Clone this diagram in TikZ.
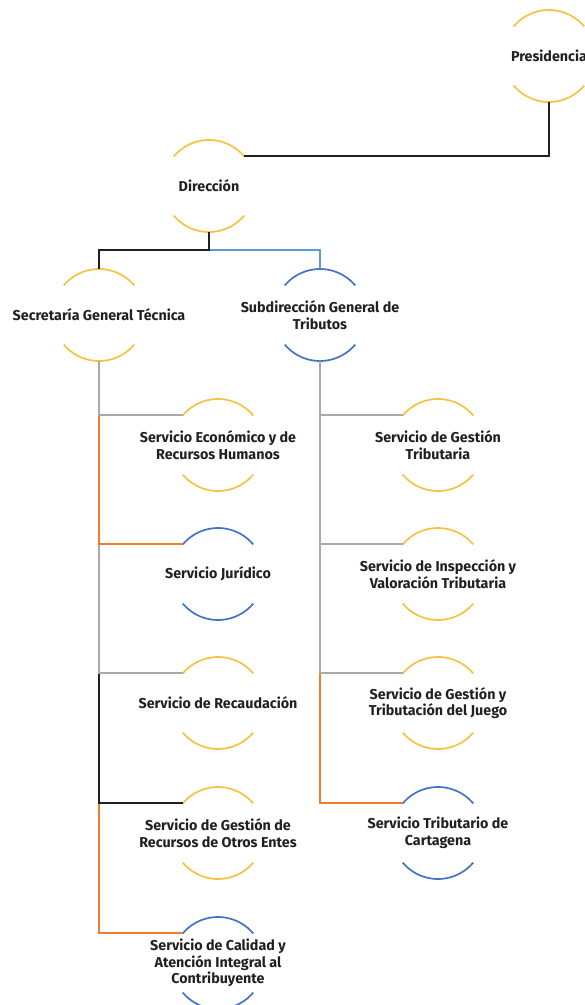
\documentclass[tikz,border=0pt]{standalone}
\usepackage{fontspec}
\setmainfont{Fira Sans}
\usetikzlibrary{calc}
\definecolor{cyel}{HTML}{F5C242}
\definecolor{cblu}{HTML}{4472C4}
\definecolor{clblu}{HTML}{5B9BD5}
\definecolor{cora}{HTML}{ED7D31}
\definecolor{cgry}{HTML}{ABA9A9}
\definecolor{cblk}{HTML}{231F20}
\newcommand\ringarcs[2]{%
  \draw[#2, line width=1.7pt] ($(#1)+(140:46pt)$) arc[start angle=140,end angle=40,radius=46pt];
  \draw[#2, line width=1.7pt] ($(#1)+(220:46pt)$) arc[start angle=220,end angle=320,radius=46pt];}
\begin{document}
\begin{tikzpicture}[x=1pt,y=-1pt,
  unit/.style={inner sep=0pt, outer sep=0pt,
    align=center, font=\bfseries\fontsize{14.3}{16.5}\selectfont, text=cblk},
  conn/.style={line width=1.9pt}]
\useasboundingbox (0,0) rectangle (585,1005);
\node[unit] (pres) at (549,56) {Presidencia};
\node[unit] (dir) at (209,186) {Dirección};
\node[unit] (sec) at (99,315) {Secretaría General Técnica};
\node[unit] (sub) at (320,315) {Subdirección General de\\Tributos};
\node[unit] (eco) at (218,445) {Servicio Económico y de\\Recursos Humanos};
\node[unit] (jur) at (218,574) {Servicio Jurídico};
\node[unit] (rec) at (218,703) {Servicio de Recaudación};
\node[unit] (ent) at (218,833) {Servicio de Gestión de\\Recursos de Otros Entes};
\node[unit] (cal) at (218,963) {Servicio de Calidad y\\Atención Integral al\\Contribuyente};
\node[unit] (ges) at (438,445) {Servicio de Gestión\\Tributaria};
\node[unit] (ins) at (438,574) {Servicio de Inspección y\\Valoración Tributaria};
\node[unit] (jue) at (438,703) {Servicio de Gestión y\\Tributación del Juego};
\node[unit] (car) at (438,833) {Servicio Tributario de\\Cartagena};
\ringarcs{pres}{cyel}
\ringarcs{dir}{cyel}
\ringarcs{sec}{cyel}
\ringarcs{sub}{cblu}
\ringarcs{eco}{cyel}
\ringarcs{jur}{cblu}
\ringarcs{rec}{cyel}
\ringarcs{ent}{cyel}
\ringarcs{cal}{cblu}
\ringarcs{ges}{cyel}
\ringarcs{ins}{cyel}
\ringarcs{jue}{cyel}
\ringarcs{car}{cblu}
\coordinate (presB) at ($(pres)+(270:46pt)$);
\coordinate (dirR) at ($(dir)+(40:46pt)$);
\coordinate (dirB) at ($(dir)+(270:46pt)$);
\coordinate (j) at ($(dirB)+(0,18)$);
\coordinate (secT) at ($(sec)+(90:46pt)$);
\coordinate (subT) at ($(sub)+(90:46pt)$);
\coordinate (secB) at ($(sec)+(270:46pt)$);
\coordinate (subB) at ($(sub)+(270:46pt)$);
\draw[conn, cblk] (dirR) -| (presB);
\draw[conn, clblu] (j) -| (subT);
\draw[conn, cblk] (dirB) -- (j) -| (secT);
\draw[conn, cora] (secB) |- ($(cal)+(140:46pt)$);
\draw[conn, cblk] (secB) |- ($(ent)+(140:46pt)$);
\draw[conn, cgry] (secB) |- ($(rec)+(140:46pt)$);
\draw[conn, cora] (secB) |- ($(jur)+(140:46pt)$);
\draw[conn, cgry] (secB) |- ($(eco)+(140:46pt)$);
\draw[conn, cora] (subB) |- ($(car)+(140:46pt)$);
\draw[conn, cgry] (subB) |- ($(jue)+(140:46pt)$);
\draw[conn, cgry] (subB) |- ($(ins)+(140:46pt)$);
\draw[conn, cgry] (subB) |- ($(ges)+(140:46pt)$);
\end{tikzpicture}
\end{document}
